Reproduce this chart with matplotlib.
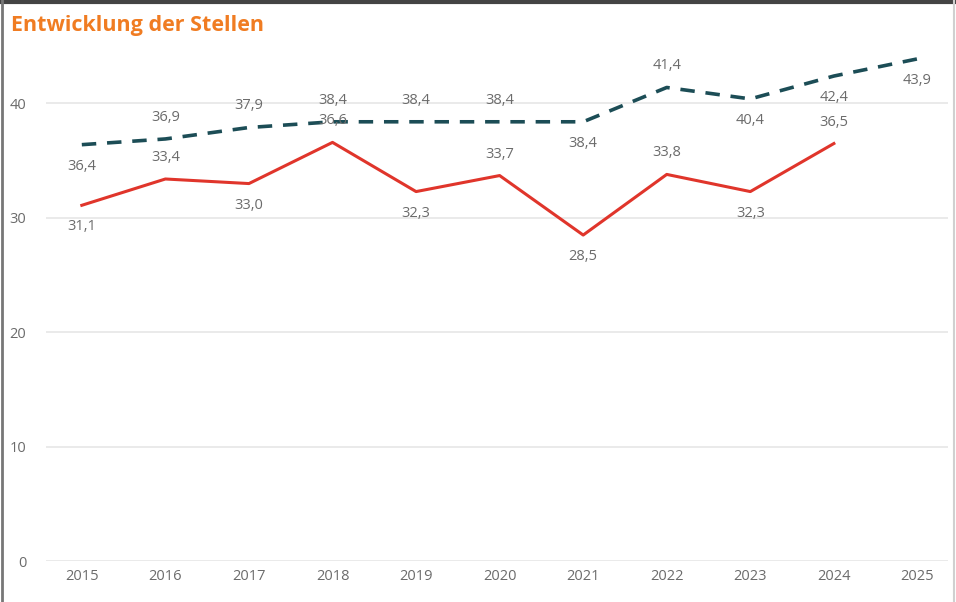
import matplotlib.pyplot as plt
from matplotlib.lines import Line2D

years = [2015, 2016, 2017, 2018, 2019, 2020, 2021, 2022, 2023, 2024, 2025]
dashed_vals = [36.4, 36.9, 37.9, 38.4, 38.4, 38.4, 38.4, 41.4, 40.4, 42.4, 43.9]
red_years = years[:10]
red_vals = [31.1, 33.4, 33.0, 36.6, 32.3, 33.7, 28.5, 33.8, 32.3, 36.5]

# label placement: +1 above the point, -1 below
dashed_pos = [-1, 1, 1, 1, 1, 1, -1, 1, -1, -1, -1]
red_pos = [-1, 1, -1, 1, -1, 1, -1, 1, -1, 1]

c_red = '#e0352b'
c_teal = '#1c4d56'
c_text = '#6b6b6b'

plt.rcParams['font.family'] = ['Open Sans', 'DejaVu Sans']

fig = plt.figure(figsize=(9.56, 6.02), dpi=100)
ax = fig.add_axes([0.048, 0.068, 0.944, 0.857])

ax.plot(years, dashed_vals, color=c_teal, lw=2.6, dashes=(4, 3), zorder=3)
ax.plot(red_years, red_vals, color=c_red, lw=2.2, zorder=3)

def label(xs, vs, pos):
    for x, v, p in zip(xs, vs, pos):
        ax.annotate(f'{v:.1f}'.replace('.', ','), (x, v), xytext=(0, 15.5 * p),
                    textcoords='offset points', ha='center', va='center',
                    fontsize=10.5, color=c_text, zorder=4)

label(years, dashed_vals, dashed_pos)
label(red_years, red_vals, red_pos)

ax.set_xlim(2014.57, 2025.37)
ax.set_ylim(0, 45.1)
ax.set_yticks([0, 10, 20, 30, 40])
ax.set_xticks(years)
ax.grid(axis='y', color='#e6e6e6', lw=1.2)
ax.set_axisbelow(True)
for s in ax.spines.values():
    s.set_visible(False)
ax.tick_params(length=0, labelsize=10.5, labelcolor=c_text)
ax.tick_params(axis='y', pad=14)
ax.tick_params(axis='x', pad=6)

fig.text(0.012, 0.958, 'Entwicklung der Stellen', color='#f07c22',
         fontsize=15.5, fontweight='bold', ha='left', va='center')

# frame lines of the screenshot
fig.add_artist(Line2D([0, 1], [0.997, 0.997], color='#444444', lw=3, transform=fig.transFigure))
fig.add_artist(Line2D([0.002, 0.002], [0, 1], color='#777777', lw=2, transform=fig.transFigure))
fig.add_artist(Line2D([0.9975, 0.9975], [0, 1], color='#d0d0d0', lw=1.5, transform=fig.transFigure))

fig.savefig('out.png', dpi=100)
